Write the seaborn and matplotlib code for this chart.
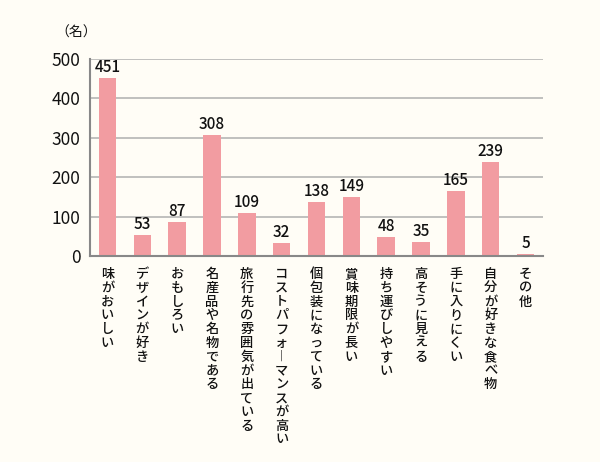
import matplotlib
matplotlib.use("Agg")
import matplotlib.pyplot as plt
import seaborn as sns
import pandas as pd
import numpy as np

categories = ["味がおいしい", "デザインが好き", "おもしろい", "名産品や名物である",
              "旅行先の雰囲気が出ている", "コストパフォーマンスが高い", "個包装になっている",
              "賞味期限が長い", "持ち運びしやすい", "高そうに見える", "手に入りにくい",
              "自分が好きな食べ物", "その他"]
values = [451, 53, 87, 308, 109, 32, 138, 149, 48, 35, 165, 239, 5]
yticks = [0, 100, 200, 300, 400, 500]
unit_label = "（名）"

sns.set_theme(style="white")
plt.rcParams['font.family'] = ['Noto Sans CJK JP', 'DejaVu Sans']

bg = "#fffdf6"
bar_color = "#f29ca1"

fig = plt.figure(figsize=(6, 4.62), dpi=100, facecolor=bg)
ax = fig.add_axes([0.15, 0.446, 0.755, 0.426], facecolor=bg)

df = pd.DataFrame({"cat": categories, "val": values})
sns.barplot(data=df, x="cat", y="val", color=bar_color, width=0.5, ax=ax,
            saturation=1, edgecolor="none")

ax.set_xlim(-0.5, len(categories) - 0.5)
ax.set_ylim(0, 500)
ax.set_yticks(yticks)
ax.set_yticklabels([str(v) for v in yticks], fontsize=12.5, color="#111111")
ax.yaxis.grid(True, color="#b5b5b5", linewidth=1.2)
ax.set_axisbelow(True)
ax.tick_params(axis="y", length=0, pad=7)

def vert(s):
    return "\n".join("︱" if c == "ー" else c for c in s)

ax.set_xticks(range(len(categories)))
ax.set_xticklabels([vert(c) for c in categories], fontsize=9.5, va="top",
                   linespacing=0.98, color="#111111", fontweight="medium")
ax.tick_params(axis="x", length=0, pad=8)
ax.set_xticks(np.arange(-0.5, len(categories), 1.0), minor=True)
ax.tick_params(axis="x", which="minor", direction="in", length=5, width=1.2, color="#888888")

for s in ["top", "right"]:
    ax.spines[s].set_visible(False)
ax.spines["left"].set_color("#888888")
ax.spines["left"].set_linewidth(1.5)
ax.spines["bottom"].set_color("#888888")
ax.spines["bottom"].set_linewidth(1.5)
ax.set_xlabel("")
ax.set_ylabel("")

for i, v in enumerate(values):
    ax.text(i, v + 5, str(v), ha="center", va="bottom", fontsize=11,
            color="#111111", fontweight="medium")

fig.text(0.092, 0.93, unit_label, fontsize=10, ha="left", va="center", color="#111111")

fig.savefig("out.png", dpi=100, facecolor=bg)
